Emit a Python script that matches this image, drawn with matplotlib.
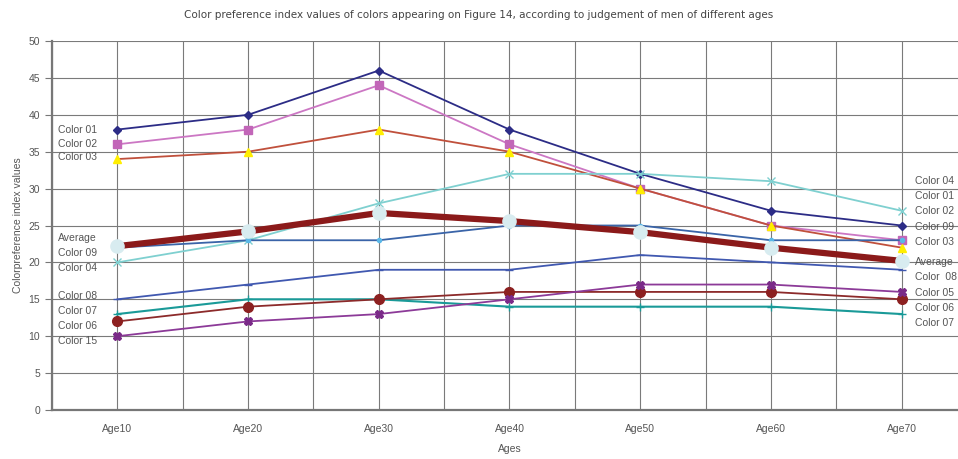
import numpy as np
import matplotlib.pyplot as plt

# Dữ liệu
ages = ['Age10', 'Age20', 'Age30', 'Age40', 'Age50', 'Age60', 'Age70']
color01 = [38, 40, 46, 38, 32, 27, 25]
color02 = [36, 38, 44, 36, 30, 25, 23]
color03 = [34, 35, 38, 35, 30, 25, 22]
color04 = [20, 23, 28, 32, 32, 31, 27]
color09 = [22, 23, 23, 25, 25, 23, 23]
average = [22.2, 24.2, 26.7, 25.6, 24.1, 22.0, 20.2]
color08 = [15, 17, 19, 19, 21, 20, 19]
color07 = [13, 15, 15, 14, 14, 14, 13]
color06 = [12, 14, 15, 16, 16, 16, 15]
color15 = [10, 12, 13, 15, 17, 17, 16]

x = np.arange(len(ages))

fig = plt.figure(figsize=(9.58, 4.59), dpi=100)
ax = fig.add_axes([52 / 958, 1 - 410 / 459, 915 / 958, 369 / 459])

# (giá trị, màu đường, marker, màu marker, cỡ marker, độ dày)
series = [
    (color01, '#2c2c86', 'D', '#2c2c86', 4, 1.3),
    (color02, '#cc77c4', 's', '#c266b8', 6, 1.3),
    (color03, '#c0503c', '^', '#ffee00', 5.5, 1.3),
    (color04, '#7fd0d0', 'x', '#7fd0d0', 6, 1.3),
    (color09, '#3a64a8', 'o', '#5ab8e8', 3, 1.3),
    (color08, '#4058b0', '_', '#4058b0', 6, 1.3),
    (color07, '#1a9a98', '+', '#1a9a98', 6, 1.5),
    (color06, '#8c2a2a', 'o', '#8c2020', 7, 1.3),
    (color15, '#8c3a98', 'X', '#7a2a88', 6, 1.3),
]
for vals, lc, mk, mc, ms, lw in series:
    ax.plot(x, vals, color=lc, lw=lw, marker=mk, mfc=mc, mec=mc, ms=ms, zorder=3)

# Đường trung bình (dày)
ax.plot(x, average, color='#8b1a1a', lw=4.5, zorder=4)
ax.plot(x, average, ls='none', marker='o', ms=9.5, mfc='#d8ecf0', mec='#d8ecf0', zorder=5)

# Nhãn bên trái và bên phải
left_names = ['Color 01', 'Color 02', 'Color 03', 'Average', 'Color 09', 'Color 04',
              'Color 08', 'Color 07', 'Color 06', 'Color 15']
left_y = [37.9, 36.1, 34.3, 23.3, 21.3, 19.3, 15.4, 13.4, 11.4, 9.3]
right_names = ['Color 04', 'Color 01', 'Color 02', 'Color 09', 'Color 03', 'Average',
               'Color  08', 'Color 05', 'Color 06', 'Color 07']
right_y = [31.0, 29.0, 26.9, 24.8, 22.7, 20.0, 18.0, 15.9, 13.8, 11.8]
for name, yy in zip(left_names, left_y):
    ax.text(-0.455, yy, name, fontsize=7.5, color='#555555', va='center', zorder=6,
            fontfamily='Liberation Sans')
for name, yy in zip(right_names, right_y):
    ax.text(6.1, yy, name, fontsize=7.5, color='#555555', va='center', zorder=6,
            fontfamily='Liberation Sans')

ax.set_xlim(-0.5, 6.5)
ax.set_ylim(0, 50)
ax.set_yticks(range(0, 51, 5))
ax.set_xticks(x)
ax.set_xticklabels(ages)
ax.set_xticks(np.arange(-0.5, 7, 1), minor=True)
ax.grid(True, which='both', color='#7a7a7a', lw=0.8)
ax.set_axisbelow(True)
ax.tick_params(axis='x', which='both', length=0, labelsize=7.5, labelcolor='#555555', pad=10)
ax.tick_params(axis='y', length=5, color='#777777', labelsize=7.5, labelcolor='#555555')
for s in ax.spines.values():
    s.set_visible(False)
ax.spines['left'].set_visible(True)
ax.spines['left'].set_color('#777777')
ax.spines['left'].set_linewidth(1.6)
ax.spines['bottom'].set_visible(True)
ax.spines['bottom'].set_color('#777777')
ax.spines['bottom'].set_linewidth(1.6)

ax.set_xlabel('Ages', fontsize=7.5, color='#555555', labelpad=7)
ax.set_ylabel('Colorpreference index values', fontsize=7.5, color='#555555', labelpad=4)
fig.text(0.5, 0.968, 'Color preference index values of colors appearing on Figure 14, according to judgement of men of different ages',
         ha='center', va='center', fontsize=7.5, color='#444444')

for lab in ax.get_xticklabels() + ax.get_yticklabels():
    lab.set_fontfamily('Liberation Sans')
ax.xaxis.label.set_fontfamily('Liberation Sans')
ax.yaxis.label.set_fontfamily('Liberation Sans')

fig.savefig('out.png', dpi=100)
